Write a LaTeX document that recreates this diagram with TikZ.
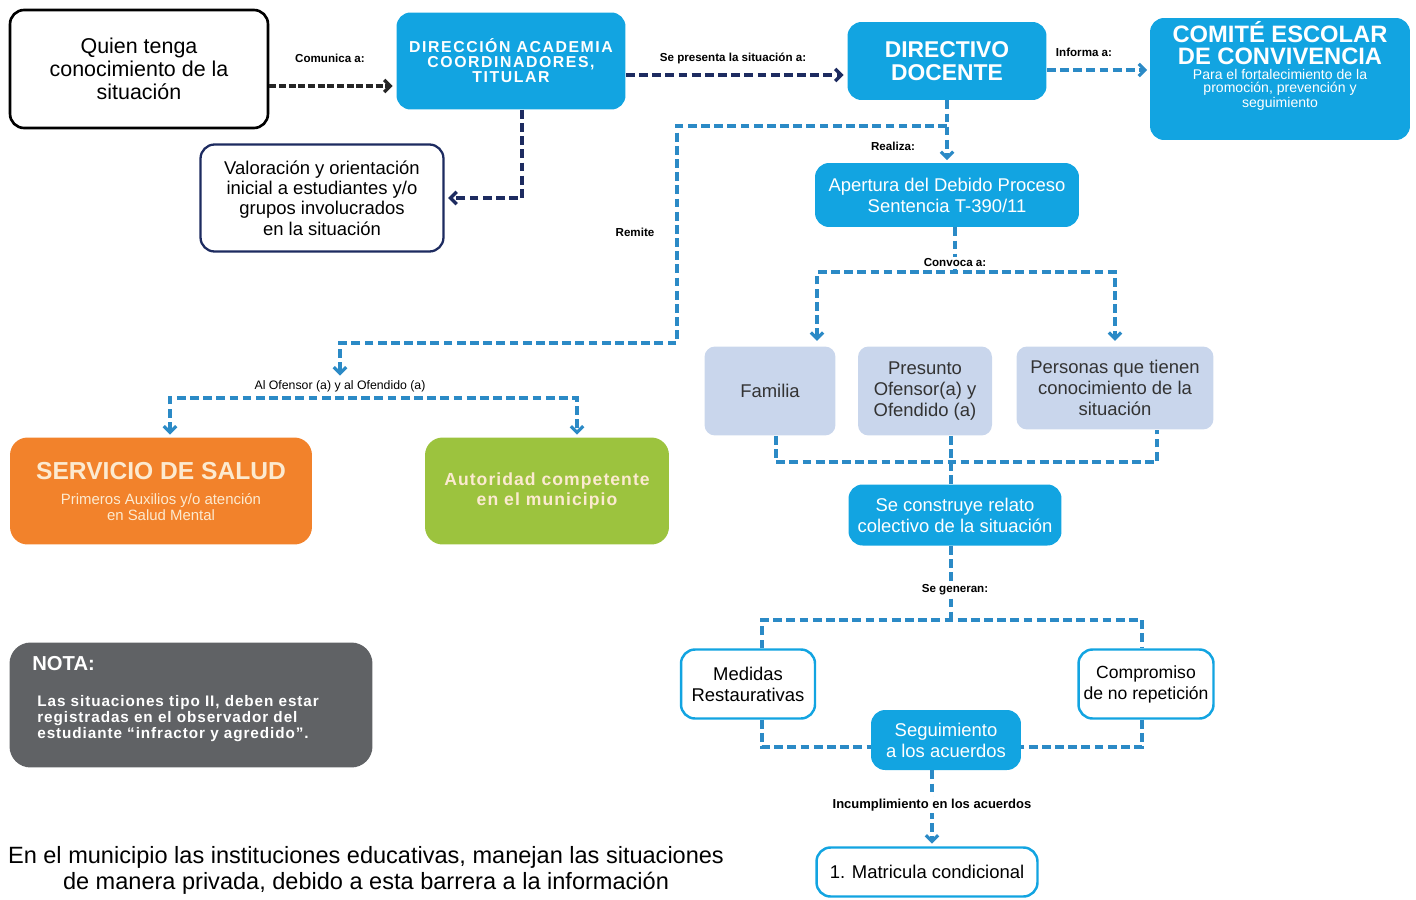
\documentclass[tikz,border=0pt]{standalone}
\usepackage{fontspec}
\setmainfont{Liberation Sans}
\usepackage{tikz}
\usetikzlibrary{arrows.meta}

\definecolor{cajaazul}{HTML}{12A4E1}
\definecolor{lineaazul}{HTML}{2B8AC6}
\definecolor{marino}{HTML}{1D2B60}
\definecolor{lavanda}{HTML}{C9D6EC}
\definecolor{naranja}{HTML}{F2822B}
\definecolor{verde}{HTML}{9CC33E}
\definecolor{gris}{HTML}{606265}
\definecolor{crema}{HTML}{FCEAD0}

\tikzset{>={Straight Barb[length=3.5pt,width=7pt]}}
\tikzset{
    bluebox/.style={rounded corners=8pt, fill=cajaazul, text=white, align=center, inner sep=2pt},
    linebox/.style={rounded corners=8pt, draw=cajaazul, line width=1.4pt, fill=white, align=center, inner sep=1pt, font=\fontsize{10.5}{12}\selectfont},
    lavbox/.style={rounded corners=6pt, fill=lavanda, text=black!80, align=center, font=\fontsize{10.5}{12}\selectfont},
    lbl/.style={font=\fontsize{6.6}{7}\selectfont\bfseries, inner sep=1pt},
    blueline/.style={draw=lineaazul, line width=1.8pt, dash pattern=on 5pt off 2.5pt},
    bluearrow/.style={blueline, ->, shorten >=1.5pt},
    navyarrow/.style={draw=marino, line width=1.9pt, dash pattern=on 5pt off 2.5pt, ->, shorten >=2pt},
    blackarrow/.style={draw=black!85, line width=1.9pt, dash pattern=on 4pt off 1.5pt, ->, shorten >=2pt}
}

\begin{document}
\begin{tikzpicture}[x=0.02cm, y=-0.02cm]
    \useasboundingbox (0,0) rectangle (1416,899);

    % Top row
    \node[draw=black, line width=1.5pt, rounded corners=8pt, fill=white, align=center,
          minimum width=5.16cm, minimum height=2.36cm, font=\fontsize{12.2}{13}\selectfont]
          (quien) at (139,69) {Quien tenga\\conocimiento de la\\situación};
    \node[bluebox, minimum width=4.58cm, minimum height=1.94cm,
          font=\fontsize{9}{8.5}\selectfont\bfseries\addfontfeature{LetterSpace=10}]
          (direccion) at (511,61) {DIRECCIÓN ACADEMIA\\COORDINADORES,\\TITULAR};
    \node[bluebox, minimum width=3.98cm, minimum height=1.56cm, font=\fontsize{13}{13}\selectfont\bfseries]
          (directivo) at (947,61) {DIRECTIVO\\DOCENTE};
    \node[bluebox, minimum width=5.2cm, minimum height=2.44cm] (comite) at (1280,79) {};
    \node[text=white, align=center, inner sep=0pt, font=\fontsize{13.5}{12.3}\selectfont\bfseries]
          (comitetit) at (1280,43) {COMITÉ ESCOLAR\\DE CONVIVENCIA};
    \node[text=white, align=center, inner sep=0pt, font=\fontsize{8}{7.1}\selectfont]
          (comitesub) at (1280,90) {Para el fortalecimiento de la\\promoción, prevención y\\seguimiento};

    \node[draw=marino, line width=1.3pt, rounded corners=8pt, fill=white, align=center,
          minimum width=4.86cm, minimum height=2.14cm, font=\fontsize{10.5}{11.6}\selectfont]
          (valoracion) at (322,198) {Valoración y orientación\\inicial a estudiantes y/o\\grupos involucrados\\en la situación};

    % Debido proceso
    \node[bluebox, minimum width=5.28cm, minimum height=1.28cm, font=\fontsize{10.5}{12}\selectfont]
          (apertura) at (947,195) {Apertura del Debido Proceso\\Sentencia T-390/11};
    \node[lavbox, minimum width=2.62cm, minimum height=1.78cm] (familia) at (770,391) {Familia};
    \node[lavbox, minimum width=2.68cm, minimum height=1.78cm] (presunto) at (925,391) {Presunto\\Ofensor(a) y\\Ofendido (a)};
    \node[lavbox, minimum width=3.94cm, minimum height=1.66cm] (personas) at (1115,388) {Personas que tienen\\conocimiento de la\\situación};
    \node[bluebox, minimum width=4.26cm, minimum height=1.22cm, font=\fontsize{10.5}{12}\selectfont]
          (relato) at (955,515) {Se construye relato\\colectivo de la situación};
    \node[linebox, minimum width=2.68cm, minimum height=1.38cm] (medidas) at (748,684) {Medidas\\Restaurativas};
    \node[linebox, minimum width=2.7cm, minimum height=1.38cm, font=\fontsize{10}{12}\selectfont]
          (compromiso) at (1146,684) {Compromiso\\de no repetición};
    \node[bluebox, minimum width=3.0cm, minimum height=1.2cm, font=\fontsize{10.5}{12}\selectfont]
          (seguimiento) at (946,740) {Seguimiento\\a los acuerdos};
    \node[linebox, minimum width=4.42cm, minimum height=0.98cm] (matricula) at (927,872) {1. Matricula condicional};

    % Remision
    \node[rounded corners=10pt, fill=naranja, minimum width=6.04cm, minimum height=2.14cm] (salud) at (161,491) {};
    \node[text=crema, font=\fontsize{14}{14}\selectfont\bfseries, inner sep=0pt] (saludtit) at (161,471) {SERVICIO DE SALUD};
    \node[text=crema, align=center, inner sep=0pt, font=\fontsize{8.5}{9}\selectfont]
          (saludsub) at (161,507) {Primeros Auxilios y/o atención\\en Salud Mental};
    \node[rounded corners=10pt, fill=verde, text=crema, align=center, minimum width=4.88cm, minimum height=2.14cm,
          font=\fontsize{10}{11.3}\selectfont\bfseries\addfontfeature{LetterSpace=6}]
          (autoridad) at (547,491) {Autoridad competente\\en el municipio};

    % Nota
    \node[rounded corners=12pt, fill=gris, minimum width=7.26cm, minimum height=2.5cm] (nota) at (191,705) {};
    \node[anchor=west, text=white, font=\fontsize{11.5}{12}\selectfont\bfseries, inner sep=0pt] (notatit) at (32,664) {NOTA:};
    \node[anchor=north west, text=white, align=left, inner sep=0pt,
          font=\fontsize{8.7}{9}\selectfont\bfseries\addfontfeature{LetterSpace=6}]
          (notatxt) at (37,695) {Las situaciones tipo II,  deben estar\\registradas en el  observador del\\estudiante “infractor y agredido”.};

    \node[align=center, font=\fontsize{13.4}{14.7}\selectfont, inner sep=0pt]
          (barrera) at (366,870) {En el municipio las instituciones educativas, manejan las situaciones\\de manera privada, debido a esta barrera a la información};

    % Labels
    \node[lbl] (comunica) at (330,58) {Comunica a:};
    \node[lbl] (presenta) at (733,58) {Se presenta la situación a:};
    \node[lbl] (informa) at (1084,52) {Informa a:};
    \node[lbl] (realiza) at (893,146) {Realiza:};
    \node[lbl] (remite) at (635,232) {Remite};
    \node[font=\fontsize{7}{7}\selectfont, inner sep=1pt] (ofendido) at (340,386) {Al Ofensor (a) y al Ofendido (a)};

    % Connectors
    \draw[blackarrow] (quien.east |- 0,86) -- (direccion.west |- 0,86);
    \draw[navyarrow] (direccion.east |- 0,75) -- (directivo.west |- 0,75);
    \draw[bluearrow] (directivo.east |- 0,70) -- (comite.west |- 0,70);
    \draw[navyarrow] (direccion.south -| 522,0) |- (valoracion.east);
    \draw[bluearrow] (directivo.south) -- (apertura.north);
    \draw[bluearrow] (directivo.south |- 0,126) -| (677,343) -| (ofendido.north);
    \draw[blueline, <->, shorten <=1.5pt, shorten >=1.5pt] (salud.north -| 170,0) |- (577,398) -- (autoridad.north -| 577,0);

    \draw[blueline] (apertura.south -| 955,0) -- (955,272);
    \draw[blueline, <->, shorten <=3pt, shorten >=3pt] (familia.north -| 817,0) |- (1115,272) -- (personas.north -| 1115,0);
    \draw[blueline] (familia.south -| 776,0) |- (1157,462) -- (personas.south -| 1157,0);
    \draw[blueline] (presunto.south -| 951,0) -- (relato.north -| 951,0);

    \draw[blueline] (relato.south -| 951,0) -- (951,620);
    \draw[blueline] (medidas.north -| 762,0) |- (1142,620) -- (compromiso.north -| 1142,0);
    \draw[blueline] (medidas.south -| 762,0) |- (seguimiento.west |- 0,747);
    \draw[blueline] (compromiso.south -| 1142,0) |- (seguimiento.east |- 0,747);
    \draw[bluearrow] (seguimiento.south -| 932,0) -- (matricula.north -| 932,0);

    % Labels over the lines
    \node[lbl, fill=white] (convoca) at (955,263) {Convoca a:};
    \node[lbl, fill=white] (generan) at (955,590) {Se generan:};
    \node[lbl, fill=white, font=\fontsize{7.4}{7.4}\selectfont\bfseries] (incumple) at (932,805) {Incumplimiento en los acuerdos};
\end{tikzpicture}
\end{document}
